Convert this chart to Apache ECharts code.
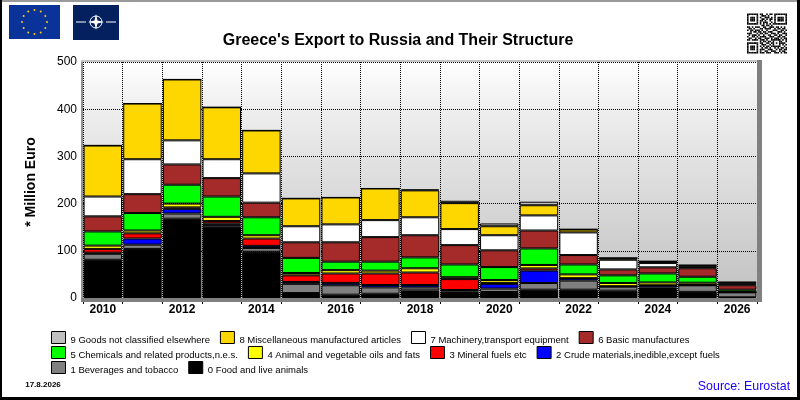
<!DOCTYPE html>
<html><head><meta charset="utf-8">
<style>html,body{margin:0;padding:0;background:#fff}#c{width:800px;height:400px}</style>
<script src="https://cdn.jsdelivr.net/npm/echarts@6/dist/echarts.min.js"></script>
</head><body><div id="c"></div>
<script>
const years = ['2010','2011','2012','2013','2014','2015','2016','2017','2018','2019','2020','2021','2022','2023','2024','2025','2026'];
const food  = [81,104,168,151,98,10.5,7,9,16,10.5,12.7,17.6,17.6,15.5,19,13,1.5];
const bev   = [12.7,9,11,4,8,19.5,20,13.5,6.5,3.5,7.3,14.1,19.4,8.5,3,14,10.5];
const crude = [2.3,13,10,3,4.5,4,5,5,5,3,10,26.3,4.5,0.5,4,0.2,0.2];
const fuels = [8,11,3,5,15.5,14,20,24.5,26.5,23,2,4.7,0.5,0.5,1,0.3,0.2];
const oils  = [7,6,8,9,7,5,7,6,9,4,6,7.3,8,6.7,6,4.9,0.6];
const chem  = [30,37,40,43,38,32,18,19,23,27,27.5,35,21,16.3,19,12.6,4.6];
const basic = [32,40,43,39,31,33,41,52,47,41,35.5,38,20,12.6,13,18,9.4];
const mach  = [42,74,51,40,62,34,38,36,38,34,32,32,48,20.4,9,3,3];
const misc  = [108,118,129,110,91,59,57,67,57,55,19,21.5,6,3.5,3.5,3,3];
const other = [0.5,0,0,0,0,0,0,0,2,5,6,7.5,1,0.5,0.5,1,1];

const names = ['0 Food and live animals','1 Beverages and tobacco','2 Crude materials,inedible,except fuels','3 Mineral fuels etc','4 Animal and vegetable oils and fats','5 Chemicals and related products,n.e.s.','6 Basic manufactures','7 Machinery,transport equipment','8 Miscellaneous manufactured articles','9 Goods not classified elsewhere'];
const colors = ['#000000','#808080','#0000ff','#ff0000','#ffff00','#00ff00','#a52a2a','#ffffff','#ffd700','#c0c0c0'];
const values = [food,bev,crude,fuels,oils,chem,basic,mach,misc,other];
const FONT = '"Liberation Sans", Arial, sans-serif';

const qr = [
'1111111011001011011111111','1000001001110100010000001','1011101010011101010111101','1011101001101011010111101','1011101011010010010111101','1000001010111001010000001','1111111010101010111111111',
'0000000001101101000000000','1101011100110011101101010','0110100011011110010110110','1011011101001000111001101','0010110110110111000111010','1110001011011001110100111','0101110100100110011011001','1001101011110011100110110','0110010110011101011101011','1101111011101001111110101',
'0000000010110110100011001','1111111011001101101011110','1000001001110010100010101','1011101010101101111110010','1011101001011010010101101','1011101011100111001011011','1000001010011001110010110','1111111011101110011101011'];

const graphic = [];
const rect=(x,y,w,h,fill,z)=>graphic.push({type:'rect',silent:true,z:z||50,shape:{x,y,width:w,height:h},style:{fill}});
const line=(x1,y1,x2,y2,stroke,lw)=>graphic.push({type:'line',silent:true,z:51,shape:{x1,y1,x2,y2},style:{stroke,lineWidth:lw||1}});
// window edges
rect(0,0,800,2,'#9a9a9a'); rect(0,0,2,400,'#000'); rect(797,0,3,400,'#000'); rect(0,397,800,3,'#000');
// plot frame
rect(81,61,2,241,'#909090'); rect(81,60,681,2,'#c4c4c4'); rect(757,60,5,242,'#808080'); rect(81,298,681,4,'#808080');
// EU flag
rect(9,5,51,34,'#0a3399');
for(let i=0;i<12;i++){const a=i*Math.PI/6;
  graphic.push({type:'circle',silent:true,z:51,shape:{cx:34.5+12.5*Math.sin(a),cy:22-12*Math.cos(a),r:1},style:{fill:'#ffcc00'}});}
// NATO flag
rect(73,5,46,35,'#04205f');
line(76,22,86,22,'#fff',1); line(106,22,116,22,'#fff',1);
graphic.push({type:'circle',silent:true,z:51,shape:{cx:96,cy:22,r:6},style:{fill:'#04205f',stroke:'#fff',lineWidth:1}});
graphic.push({type:'polygon',silent:true,z:52,shape:{points:[[96,14],[97.5,20.5],[104,22],[97.5,23.5],[96,30],[94.5,23.5],[88,22],[94.5,20.5]]},style:{fill:'#fff'}});
// QR
const qs=1.6;
qr.forEach((row,j)=>{[...row].forEach((c,i)=>{if(c==='1')rect(747+i*qs,13.5+j*qs,qs,qs,'#000');});});
// loose texts
const txt=(x,y,text,font,fill,extra)=>graphic.push({type:'text',silent:true,z:60,x,y,rotation:(extra&&extra.rotation)||0,style:Object.assign({text,font:font,fill:fill||'#000',textAlign:'center',textVerticalAlign:'middle'},extra&&extra.style)});
txt(398,41,"Greece's Export to Russia and Their Structure",'bold 16px '+FONT);
txt(31,182,'* Million Euro','bold 14px '+FONT,'#000',{rotation:Math.PI/2});
txt(43,385,'17.8.2026','bold 8px '+FONT);
txt(744,387,'Source: Eurostat','12.4px '+FONT,'#1a00ff');

const legendRow=(top,idx)=>({show:true,left:51,top,itemWidth:14,itemHeight:12,itemGap:10,padding:0,selectedMode:false,icon:'rect',
  itemStyle:{borderWidth:1,borderColor:'#000',borderJoin:'miter'},
  formatter:'{a|{name}}',
  data:idx.map(i=>names[i]),
  textStyle:{fontFamily:FONT,fontSize:9.5,color:'#000',rich:{a:{fontFamily:FONT,fontSize:9.5,color:'#000',padding:[6,0,0,0]}}}});

const option={
  animation:false,backgroundColor:'#fff',
  graphic:{elements:graphic},
  legend:[legendRow(331,[9,8,7,6]),legendRow(346,[5,4,3,2]),legendRow(361,[1,0])],
  grid:{left:83,right:43,top:62,bottom:102,show:true,borderWidth:0,
    backgroundColor:new echarts.graphic.LinearGradient(0,0,0,1,[{offset:0,color:'#ffffff'},{offset:0.2,color:'#eeeeee'},{offset:0.88,color:'#c8c8c8'},{offset:1,color:'#c2c2c2'}])},
  xAxis:{type:'category',data:years,boundaryGap:true,
    axisLine:{show:false},
    axisTick:{show:true,interval:0,length:6,lineStyle:{color:'#000',width:1}},
    axisLabel:{interval:1,margin:6,fontFamily:FONT,fontSize:12,fontWeight:'bold',color:'#000'},
    splitLine:{show:true,interval:0,lineStyle:{color:'#000',type:[1,1],width:1}}},
  yAxis:{type:'value',min:0,max:500,interval:100,
    axisLine:{show:false},axisTick:{show:false},
    axisLabel:{margin:6,fontFamily:FONT,fontSize:12,color:'#000',verticalAlignMinLabel:'middle',verticalAlignMaxLabel:'middle'},
    splitLine:{show:true,lineStyle:{color:'#000',type:[1,1],width:1}}},
  series:values.map((v,i)=>({name:names[i],type:'bar',stack:'t',data:v,barWidth:'97%',
    itemStyle:{color:colors[i],borderColor:'#000',borderWidth:1,borderJoin:'miter'}}))
};
echarts.init(document.getElementById('c')).setOption(option);
</script></body></html>
